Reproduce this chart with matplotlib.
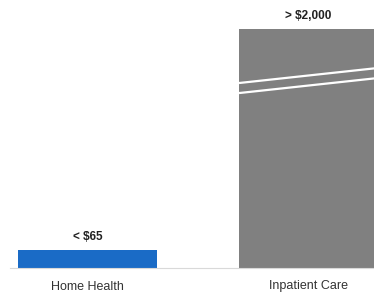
from matplotlib import pyplot as plt
import numpy

# data
categories = ["Home Health", "Inpatient Care"]
values = [65, 2000]
value_labels = ["< $65", "> $2,000"]
bar_colors = ["#1a6bc6", "#808080"]

# the tall bar is cut off (broken axis), the short one is drawn to scale
cap = 863

plt.rcParams['font.family'] = ['Liberation Sans', 'DejaVu Sans']

fig = plt.figure(figsize=(3.74, 2.96), dpi=100)
ax = fig.add_axes([0, 28 / 296, 1, 268 / 296])

x = numpy.arange(len(categories))
shown = [min(v, cap) for v in values]
width = 0.629
bars = ax.bar(x, shown, width=width, color=bar_colors, zorder=2)

ax.set_xlim(-87.5 / 221, (374 - 87.5) / 221)
ax.set_ylim(0, 65 * 268 / 18)

for xi, h, lab in zip(x, shown, value_labels):
    ax.annotate(lab, (xi, h), xytext=(0, 5), textcoords="offset points",
                ha="center", va="bottom", fontsize=8.5, fontweight="bold", color="#222222")

# break marks on the cut bar
for i, v in enumerate(values):
    if v > cap:
        x0 = x[i] - width / 2
        x1 = x[i] + width / 2
        for off in (0.0, 0.042):
            ax.plot([x0, x1], [cap * (0.774 - off), cap * (0.837 - off)],
                    color="white", lw=1.6, zorder=3, solid_capstyle="butt")

ax.set_xticks(x)
ax.set_xticklabels(categories, fontsize=9, color="#333333")
ax.tick_params(axis="x", length=0, pad=9)
ax.set_yticks([])
for s in ["top", "right", "left"]:
    ax.spines[s].set_visible(False)
ax.spines["bottom"].set_color("#d9d9d9")
ax.spines["bottom"].set_bounds(-77.5 / 221, (374 - 87.5) / 221)

fig.savefig("out.png", dpi=100)
